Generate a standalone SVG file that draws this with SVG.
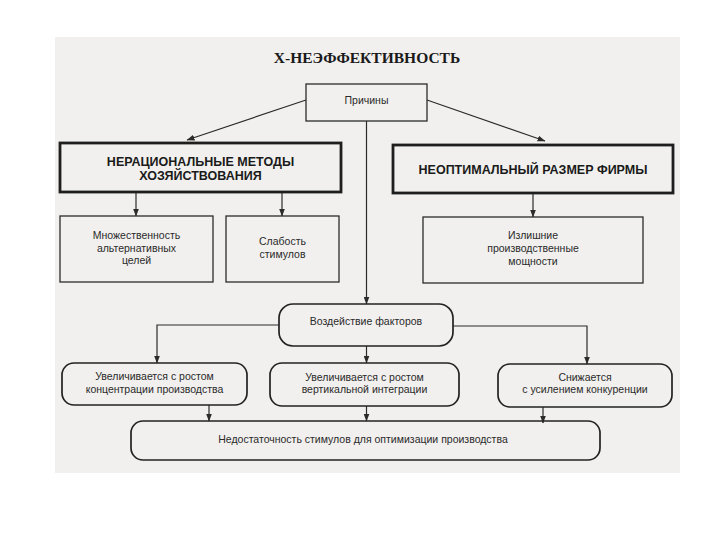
<svg xmlns="http://www.w3.org/2000/svg" width="720" height="540" viewBox="0 0 720 540">
<defs>
<marker id="ah" markerWidth="8" markerHeight="6" refX="7.5" refY="3" orient="auto" markerUnits="userSpaceOnUse">
<path d="M0,0 L8,3 L0,6 Z" fill="#2b2b2b"/>
</marker>
<style>
.bg{fill:#f1f0ee}
.box{fill:none;stroke:#2b2b2b;stroke-width:1.3}
.big{fill:none;stroke:#1e1e1e;stroke-width:2.8}
.rnd{fill:none;stroke:#222;stroke-width:1.7}
.con{fill:none;stroke:#2b2b2b;stroke-width:1.2;marker-end:url(#ah)}
.t{font-family:"Liberation Sans",Arial,sans-serif;font-size:10.5px;fill:#2a2a2a;text-anchor:middle}
.b{font-family:"Liberation Sans",Arial,sans-serif;font-size:12.5px;font-weight:bold;fill:#1a1a1a;text-anchor:middle}
.title{font-family:"Liberation Serif","Times New Roman",serif;font-size:15.5px;font-weight:bold;fill:#1a1a1a;text-anchor:middle}
</style>
</defs>
<rect width="720" height="540" fill="#ffffff"/>
<rect class="bg" x="55" y="37" width="625" height="436"/>
<text class="title" x="367" y="63">Х-НЕЭФФЕКТИВНОСТЬ</text>

<g id="connectors">
<line class="con" x1="306" y1="100" x2="187" y2="140"/>
<line class="con" x1="427" y1="100" x2="545" y2="141"/>
<line class="con" x1="366.5" y1="121" x2="366.5" y2="304"/>
<line class="con" x1="136" y1="193" x2="136" y2="216"/>
<line class="con" x1="282" y1="193" x2="282" y2="216"/>
<line class="con" x1="533" y1="194" x2="533" y2="217"/>
<polyline class="con" points="279,325 157,325 157,363"/>
<polyline class="con" points="453,326 587,326 587,364"/>
<line class="con" x1="366.5" y1="346" x2="366.5" y2="363"/>
<line class="con" x1="209" y1="405" x2="209" y2="421"/>
<line class="con" x1="366.5" y1="406" x2="366.5" y2="421"/>
<line class="con" x1="543" y1="407" x2="543" y2="423"/>
</g>

<g id="prichiny">
<rect class="box" x="306" y="84" width="121" height="37" fill="#f5f4f2"/>
<text class="t" x="366.5" y="104">Причины</text>
</g>

<g id="neracionalnye">
<rect class="big" x="60" y="143" width="281" height="49"/>
<text class="b" x="200.5" y="166">НЕРАЦИОНАЛЬНЫЕ  МЕТОДЫ</text>
<text class="b" x="200.5" y="180">ХОЗЯЙСТВОВАНИЯ</text>
</g>

<g id="neoptimalnyi">
<rect class="big" x="393" y="145" width="280" height="48"/>
<text class="b" x="533" y="174">НЕОПТИМАЛЬНЫЙ  РАЗМЕР  ФИРМЫ</text>
</g>

<g id="mnozhestvennost">
<rect class="box" x="60" y="216" width="153" height="66"/>
<text class="t" x="136.5" y="239">Множественность</text>
<text class="t" x="136.5" y="251.5">альтернативных</text>
<text class="t" x="136.5" y="264">целей</text>
</g>

<g id="slabost">
<rect class="box" x="226" y="216" width="113" height="66"/>
<text class="t" x="282.5" y="245">Слабость</text>
<text class="t" x="282.5" y="258">стимулов</text>
</g>

<g id="izlishnie">
<rect class="box" x="423" y="217" width="220" height="66"/>
<text class="t" x="533" y="239">Излишние</text>
<text class="t" x="533" y="252">производственные</text>
<text class="t" x="533" y="265">мощности</text>
</g>

<g id="vozdeistvie">
<rect class="rnd" x="279" y="304" width="174" height="42" rx="14"/>
<text class="t" x="366" y="325">Воздействие факторов</text>
</g>

<g id="koncentracii">
<rect class="rnd" x="62" y="363" width="185" height="42" rx="12"/>
<text class="t" x="154.5" y="380">Увеличивается с ростом</text>
<text class="t" x="154.5" y="392.5">концентрации производства</text>
</g>

<g id="integracii">
<rect class="rnd" x="270" y="363" width="189" height="43" rx="12"/>
<text class="t" x="364.5" y="381">Увеличивается с ростом</text>
<text class="t" x="364.5" y="393">вертикальной интеграции</text>
</g>

<g id="konkurencii">
<rect class="rnd" x="498" y="364" width="174" height="43" rx="12"/>
<text class="t" x="585" y="381">Снижается</text>
<text class="t" x="585" y="393">с усилением конкуренции</text>
</g>

<g id="nedostatochnost">
<rect class="rnd" x="131" y="421" width="469" height="39" rx="12"/>
<text class="t" x="363" y="443">Недостаточность стимулов для оптимизации производства</text>
</g>
</svg>
